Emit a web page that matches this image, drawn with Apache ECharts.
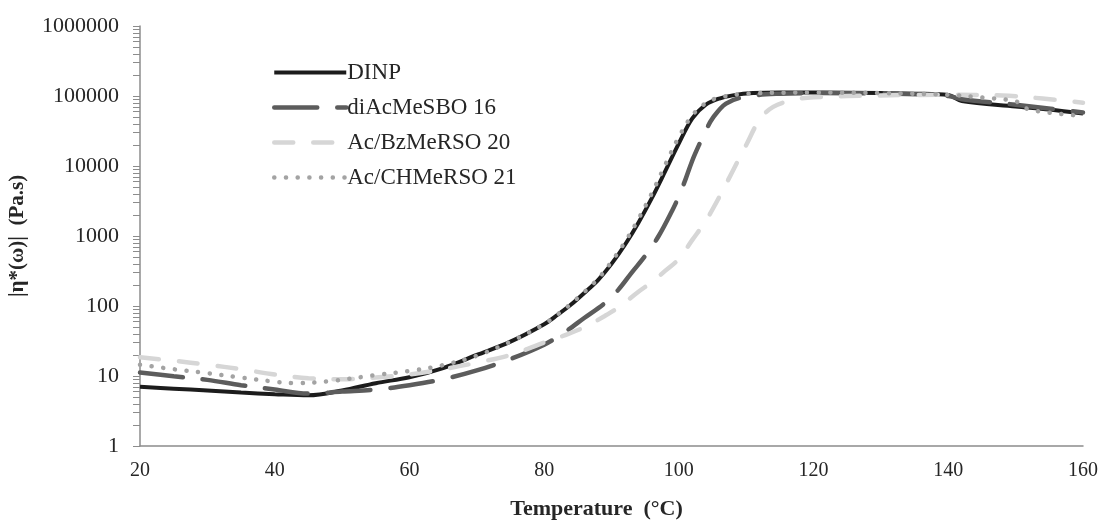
<!DOCTYPE html>
<html>
<head>
<meta charset="utf-8">
<script src="https://cdn.jsdelivr.net/npm/echarts@6/dist/echarts.min.js"></script>
<style>
html,body{margin:0;padding:0;background:#fff;}
#chart{width:1101px;height:520px;}
</style>
</head>
<body>
<div id="chart"></div>
<script>
// ---- Data ----
const seriesNames = ['DINP', 'diAcMeSBO 16', 'Ac/BzMeRSO 20', 'Ac/CHMeRSO 21'];

const dinpT = [20, 25, 30, 35, 40, 45, 50, 55, 60, 65, 70, 75, 80, 82, 84, 86, 88, 90, 92, 94, 96, 98, 100, 102, 104, 106, 108, 111, 115, 120, 130, 135, 140, 142, 150, 155, 160];
const dinpV = [7.0, 6.6, 6.2, 5.8, 5.5, 5.3, 6.2, 7.9, 9.6, 13, 20, 31, 55, 75, 105, 155, 235, 400, 750, 1550, 3500, 8500, 21000, 48000, 75000, 92000, 102000, 110000, 112000, 112000, 110000, 108000, 103000, 85000, 71000, 64000, 56000];

const diacT = [20, 25, 30, 35, 40, 45, 50, 55, 60, 65, 70, 75, 80, 83, 86, 89, 91, 93, 95, 97, 99, 100, 101, 102, 103, 104, 105, 107, 110, 115, 120, 130, 140, 142, 150, 160];
const diacV = [11.2, 9.9, 8.8, 7.4, 6.4, 5.6, 6.0, 6.4, 7.4, 9.0, 12, 17.5, 28, 42, 68, 110, 170, 300, 520, 1000, 2300, 3700, 6500, 12000, 20000, 32000, 48000, 78000, 98000, 108000, 110000, 109000, 100000, 90000, 75000, 58000];

const bzT = [20, 25, 30, 35, 40, 45, 50, 55, 60, 65, 70, 75, 80, 83, 86, 89, 91, 94, 96, 98, 100, 102, 104, 106, 108, 110, 112, 114, 117, 120, 130, 140, 148, 154, 160];
const bzV = [18.5, 16.5, 14.5, 12.5, 10.5, 9.3, 9.0, 9.5, 10.5, 12.5, 15.5, 20, 30, 38, 50, 72, 95, 160, 220, 320, 470, 880, 1650, 3600, 8500, 20000, 46000, 70000, 88000, 96000, 102000, 104000, 102000, 92000, 80000];

const chT = [20, 25, 30, 35, 40, 43, 48, 55, 60, 65, 70, 75, 80, 82, 84, 86, 88, 90, 92, 94, 96, 98, 100, 102, 104, 106, 110, 120, 130, 140, 145, 150, 152, 160];
const chV = [14.5, 12.5, 11, 9.5, 8.3, 7.9, 8.4, 10.3, 11.8, 14.3, 19.5, 31, 55, 76, 108, 160, 245, 430, 820, 1750, 4100, 10500, 26000, 53000, 79000, 95000, 108000, 112000, 110000, 104000, 95000, 84000, 64000, 52000];

const xTicks = [20, 40, 60, 80, 100, 120, 140, 160];
const yMajor = [1, 10, 100, 1000, 10000, 100000, 1000000];

// ---- build ----
function zip(t, v) { return t.map((x, i) => [x, v[i]]); }
const yTickValues = [];
for (let d = 0; d < 6; d++) {
  for (let m = 1; m <= 9; m++) yTickValues.push(m * Math.pow(10, d));
}
yTickValues.push(1000000);

const serif = '"Liberation Serif", "DejaVu Serif", serif';

const styles = [
  { color: '#1c1c1c', width: 4, type: 'solid', cap: 'butt' },
  { color: '#5c5c5c', width: 4.5, type: [43, 20], cap: 'round' },
  { color: '#d6d6d6', width: 4.5, type: [19, 20], cap: 'round' },
  { color: '#a3a3a3', width: 4.5, type: [0.1, 11.6], cap: 'round' }
];
const datas = [zip(dinpT, dinpV), zip(diacT, diacV), zip(bzT, bzV), zip(chT, chV)];

const chart = echarts.init(document.getElementById('chart'), null, { renderer: 'canvas' });
chart.setOption({
  animation: false,
  backgroundColor: '#ffffff',
  textStyle: { fontFamily: serif },
  grid: { left: 140, right: 18, top: 26, bottom: 74, containLabel: false, outerBoundsMode: 'none' },
  legend: {
    orient: 'vertical',
    left: 267,
    top: 56,
    itemWidth: 72,
    itemHeight: 20,
    itemGap: 12,
    itemStyle: { opacity: 0 },
    textStyle: { fontFamily: serif, fontSize: 23, color: '#262626', padding: [0, 0, 0, -4] },
    data: seriesNames.map((n, i) => ({
      name: n,
      lineStyle: { width: styles[i].width, type: styles[i].type, cap: styles[i].cap, color: styles[i].color }
    }))
  },
  xAxis: {
    type: 'value',
    min: 20, max: 160, interval: 20,
    name: 'Temperature  (°C)',
    nameLocation: 'middle',
    nameGap: 52,
    nameTextStyle: { fontFamily: serif, fontSize: 22, fontWeight: 'bold', color: '#262626', padding: [0, 30, 0, 0] },
    axisLine: { show: true, lineStyle: { color: '#8c8c8c', width: 1.5 } },
    axisTick: { show: false },
    splitLine: { show: false },
    axisLabel: { fontFamily: serif, fontSize: 20, color: '#262626', margin: 15,
      customValues: xTicks }
  },
  yAxis: {
    type: 'log',
    logBase: 10,
    min: 1, max: 1000000,
    name: '|η*(ω)|  (Pa.s)',
    nameLocation: 'middle',
    nameRotate: 90,
    nameGap: 112,
    nameTextStyle: { fontFamily: serif, fontSize: 21, fontWeight: 'bold', color: '#262626' },
    axisLine: { show: true, lineStyle: { color: '#8c8c8c', width: 1.5 } },
    axisTick: { show: true, inside: false, length: 7, lineStyle: { color: '#8c8c8c', width: 1 },
      customValues: yTickValues },
    minorTick: { show: false },
    splitLine: { show: false },
    axisLabel: { fontFamily: serif, fontSize: 22, color: '#262626', margin: 21,
      customValues: yMajor,
      formatter: v => String(Math.round(v)) }
  },
  series: seriesNames.map((n, i) => ({
    name: n,
    type: 'line',
    data: datas[i],
    symbol: 'none',
    smooth: 0.35,
    z: 2 + i,
    itemStyle: { color: styles[i].color },
    lineStyle: { color: styles[i].color, width: styles[i].width, type: styles[i].type, cap: styles[i].cap }
  }))
});
</script>
</body>
</html>
